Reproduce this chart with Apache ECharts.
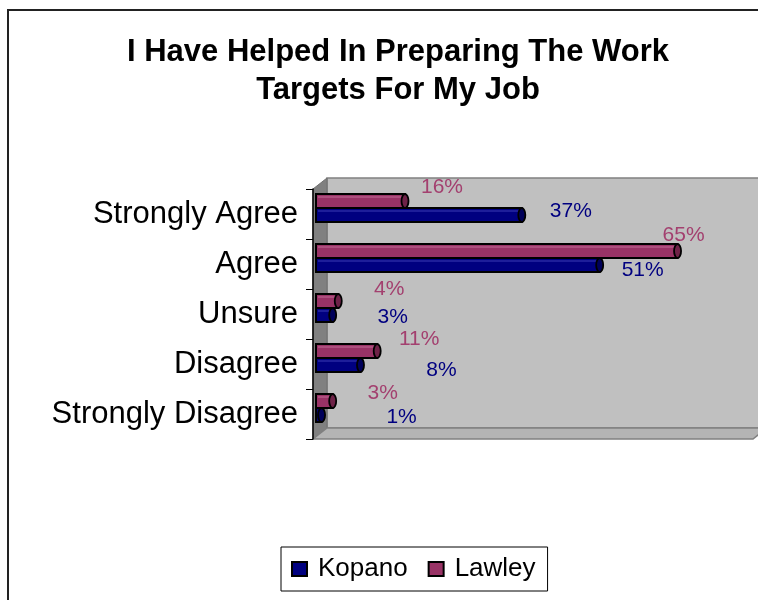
<!DOCTYPE html>
<html>
<head>
<meta charset="utf-8">
<script src="https://cdn.jsdelivr.net/npm/echarts@6/dist/echarts.min.js"></script>
<style>
  html, body { margin: 0; padding: 0; background: #ffffff; }
  #chart { width: 758px; height: 600px; }
</style>
</head>
<body>
<div id="chart"></div>
<script>
// Survey responses (percent of respondents)
const categories = ['Strongly Agree', 'Agree', 'Unsure', 'Disagree', 'Strongly Disagree'];
const seriesNames = ['Kopano', 'Lawley'];
const kopano = [37, 51, 3, 8, 1];
const lawley = [16, 65, 4, 11, 3];
const valueMax = 80;

// Where each value label sits, relative to its bar's end and vertical centre
const kopanoLabelNudge = [[49, -4], [43, 5], [60, 2], [81, 5], [80, 2]];
const lawleyLabelNudge = [[37, -14], [6, -16], [51, -12], [42, -12], [50, -8]];

// Plot geometry: front plane of the 3-D box and its depth offset
const GRID = { left: 313, top: 189, width: 445, height: 250 };
const DEPTH = { dx: 14, dy: -11 };
const BAR_SHIFT = { x: 3, y: -6 };   // bars sit half-way into the box
const BAR_H = 14;
const FONT = '"Liberation Sans", Arial, Helvetica, sans-serif';

const COLORS = {
  Kopano: { fill: '#000080', cap: '#00005a', shine: '#3a3ab0', label: '#000080' },
  Lawley: { fill: '#993366', cap: '#6e2247', shine: '#c06a95', label: '#a3406f' }
};

function cylinderSeries(name, values, nudges, slot) {
  const c = COLORS[name];
  return {
    type: 'custom',
    name: name,
    z: 5,
    itemStyle: { color: c.fill, borderColor: '#000', borderWidth: 1 },
    encode: { x: 0, y: 1 },
    data: values.map((v, i) => [v, i]),
    renderItem: function (params, api) {
      const v = api.value(0);
      const idx = api.value(1);
      const start = api.coord([0, idx]);
      const end = api.coord([v, idx]);
      const x0 = start[0] + BAR_SHIFT.x;
      const x1 = end[0] + BAR_SHIFT.x;
      const yTop = start[1] + BAR_SHIFT.y - (slot === 1 ? BAR_H : 0);
      const yMid = yTop + BAR_H / 2;
      const nudge = nudges[params.dataIndex];
      return {
        type: 'group',
        children: [
          {
            type: 'rect',
            shape: { x: x0, y: yTop, width: Math.max(x1 - x0, 1), height: BAR_H },
            style: { fill: c.fill, stroke: '#000', lineWidth: 2 }
          },
          {
            type: 'line',
            shape: { x1: x0 + 2, y1: yTop + 3, x2: Math.max(x1 - 2, x0 + 2), y2: yTop + 3 },
            style: { stroke: c.shine, lineWidth: 1.5, opacity: 0.7 }
          },
          {
            type: 'ellipse',
            shape: { cx: x1, cy: yMid, rx: 3.5, ry: BAR_H / 2 },
            style: { fill: c.cap, stroke: '#000', lineWidth: 1.8 }
          },
          {
            type: 'text',
            z2: 10,
            style: {
              x: x1 + nudge[0],
              y: yMid + nudge[1],
              text: v + '%',
              align: 'center',
              verticalAlign: 'middle',
              fill: c.label,
              font: '21px ' + FONT
            }
          }
        ]
      };
    }
  };
}

// Box walls drawn behind the bars
const gx0 = GRID.left, gy0 = GRID.top;
const gx1 = GRID.left + GRID.width - 5, gy1 = GRID.top + GRID.height;
const walls = [
  { // back wall
    type: 'rect', z: -10,
    shape: { x: gx0 + DEPTH.dx, y: gy0 + DEPTH.dy, width: 500, height: GRID.height },
    style: { fill: '#c0c0c0', stroke: '#808080', lineWidth: 1.5 }
  },
  { // left side wall
    type: 'polygon', z: -10,
    shape: { points: [[gx0, gy0], [gx0 + DEPTH.dx, gy0 + DEPTH.dy], [gx0 + DEPTH.dx, gy1 + DEPTH.dy], [gx0, gy1]] },
    style: { fill: '#808080', stroke: '#707070', lineWidth: 1 }
  },
  { // floor
    type: 'polygon', z: -10,
    shape: { points: [[gx0, gy1], [gx0 + DEPTH.dx, gy1 + DEPTH.dy], [gx1 + DEPTH.dx, gy1 + DEPTH.dy], [gx1, gy1]] },
    style: { fill: '#b4b4b4', stroke: '#808080', lineWidth: 1.5 }
  },
  { // outer chart frame
    type: 'rect', z: -20,
    shape: { x: 8, y: 10, width: 800, height: 700 },
    style: { fill: '#ffffff', stroke: '#222222', lineWidth: 2 }
  }
];

const chart = echarts.init(document.getElementById('chart'));
chart.setOption({
  animation: false,
  backgroundColor: '#ffffff',
  title: {
    text: 'I Have Helped In Preparing The Work\nTargets For My Job',
    left: 393,
    top: 28,
    textAlign: 'center',
    textStyle: { fontFamily: FONT, fontSize: 31, fontWeight: 'bold', color: '#000', lineHeight: 38 }
  },
  legend: {
    data: seriesNames,
    left: 281,
    top: 547,
    padding: [9, 12, 9, 10],
    itemGap: 20,
    itemWidth: 15,
    itemHeight: 14,
    icon: 'rect',
    borderColor: '#000',
    borderWidth: 1,
    textStyle: { fontFamily: FONT, fontSize: 26, color: '#000', padding: [0, 0, 0, 6] }
  },
  grid: { left: GRID.left, top: GRID.top, width: GRID.width, height: GRID.height, containLabel: false },
  xAxis: { type: 'value', min: 0, max: valueMax, show: false },
  yAxis: {
    type: 'category',
    data: categories,
    inverse: true,
    axisLine: { show: true, lineStyle: { color: '#000', width: 1.5 } },
    axisTick: { show: true, length: 7, lineStyle: { color: '#000', width: 1 } },
    axisLabel: { fontFamily: FONT, fontSize: 31, color: '#000', margin: 15 },
    splitLine: { show: false }
  },
  graphic: walls,
  series: [
    cylinderSeries('Kopano', kopano, kopanoLabelNudge, 0),
    cylinderSeries('Lawley', lawley, lawleyLabelNudge, 1)
  ]
});
</script>
</body>
</html>
